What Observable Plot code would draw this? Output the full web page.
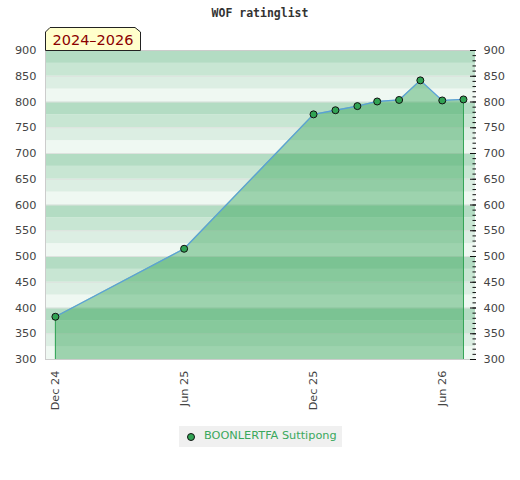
<!DOCTYPE html>
<html>
<head>
<meta charset="utf-8">
<script src="https://cdn.jsdelivr.net/npm/d3@7"></script>
<script src="https://cdn.jsdelivr.net/npm/@observablehq/plot@0.6"></script>
<style>
  body { margin: 0; background: #fff; }
  #wrap { position: relative; width: 520px; height: 480px; font-family: "DejaVu Sans", sans-serif; }
  #title { position: absolute; left: 0; top: 6px; width: 520px; text-align: center; font: bold 11.5px "DejaVu Sans Mono", monospace; color: #333; }
  #period { position: absolute; left: 45px; top: 27px; }
  #legend { position: absolute; left: 179px; top: 426px; width: 163px; height: 21px; background: #f0f0f0; }
  #legend span { position: absolute; left: 25px; top: 3px; font-size: 11.3px; color: #3aa85c; white-space: nowrap; }
  #legend svg { position: absolute; left: 7px; top: 6px; }
  #chart { position: absolute; left: 0; top: 0; }
</style>
</head>
<body>
<div id="wrap">
  <div id="chart"></div>
  <div id="title">WOF ratinglist</div>
  <svg id="period" width="97" height="24">
    <polygon points="0.5,23.5 0.5,5 5,0.5 90,0.5 95.5,5 95.5,23.5" fill="#ffffcc" stroke="#222" stroke-width="1"/>
    <text x="48" y="18" text-anchor="middle" font-family="DejaVu Sans" font-size="14.5" fill="#8b0000">2024–2026</text>
  </svg>
  <div id="legend">
    <svg width="10" height="10"><circle cx="5" cy="5" r="3.5" fill="#31a354" stroke="#111" stroke-width="1"/></svg>
    <span>BOONLERTFA Suttipong</span>
  </div>
</div>
<script>
const dates = ["2024-12-01","2025-06-01","2025-12-01","2026-01-01","2026-02-01","2026-03-01","2026-04-01","2026-05-01","2026-06-01","2026-07-01"];
const ratings = [383, 515, 776, 784, 792, 801, 804, 842, 803, 805];
const xTicks = ["2024-12-01","2025-06-01","2025-12-01","2026-06-01"];
const yTicks = [300,350,400,450,500,550,600,650,700,750,800,850,900];
const yMinorTicks = [300,310,320,330,340,350,360,370,380,390,400,410,420,430,440,450,460,470,480,490,500,510,520,530,540,550,560,570,580,590,600,610,620,630,640,650,660,670,680,690,700,710,720,730,740,750,760,770,780,790,800,810,820,830,840,850,860,870,880,890,900];
const bandLows = [300,325,350,375,400,425,450,475,500,525,550,575,600,625,650,675,700,725,750,775,800,825,850,875];
const xDomain = ["2024-11-17","2026-07-18"];
const yDomain = [300, 900];

const parse = s => new Date(s + "T00:00:00Z");
const data = dates.map((d, i) => ({date: parse(d), rating: ratings[i]}));
const xd = xDomain.map(parse);
const shade = {0: "#eff8f2", 25: "#dceee3", 50: "#c8e6d3", 75: "#b3dcc3"};
const bands = bandLows.map(v => ({lo: v, hi: v + 25, fill: shade[v % 100]}));
const ends = [data[0], data[data.length - 1]];

const chart = Plot.plot({
  width: 520,
  height: 420,
  marginTop: 50,
  marginBottom: 61,
  marginLeft: 45,
  marginRight: 45,
  style: {fontFamily: "DejaVu Sans", fontSize: "11.3px", color: "#444", background: "transparent"},
  x: {type: "utc", domain: xd},
  y: {domain: yDomain},
  marks: [
    Plot.rect(bands, {x1: () => xd[0], x2: () => xd[1], y1: "lo", y2: "hi", fill: "fill"}),
    Plot.ruleY(yTicks.slice(1, -1), {stroke: "#dde2de", strokeWidth: 1}),
    Plot.areaY(data, {x: "date", y1: yDomain[0], y2: "rating", fill: "#31a354", fillOpacity: 0.43}),
    Plot.ruleX(ends, {x: "date", y1: yDomain[0], y2: "rating", stroke: "#31a354", strokeWidth: 1}),
    Plot.lineY(data, {x: "date", y: "rating", stroke: "#5aa0d8", strokeWidth: 1.3}),
    Plot.dot(data, {x: "date", y: "rating", r: 3.5, fill: "#31a354", stroke: "#111", strokeWidth: 1}),
    Plot.ruleX([xd[0]], {stroke: "#ccc"}),
    Plot.ruleY([yDomain[0], yDomain[1]], {stroke: "#ccc"}),
    Plot.axisY(yTicks, {anchor: "left", tickSize: 0, tickPadding: 9, fill: "#444"}),
    Plot.axisY(yTicks, {anchor: "right", tickSize: 0, tickPadding: 8, fill: "#444"}),
    Plot.axisY(yMinorTicks, {anchor: "right", tickSize: 3.5, dx: -3.5, text: null, stroke: "#111"}),
    Plot.axisY(yTicks, {anchor: "right", tickSize: 6, dx: -6, text: null, stroke: "#111"}),
    Plot.axisX(xTicks.map(parse), {anchor: "bottom", tickSize: 0, tickPadding: 11, tickRotate: -90, tickFormat: d3.utcFormat("%b %y"), fill: "#444"})
  ]
});
document.getElementById("chart").appendChild(chart);
</script>
</body>
</html>
